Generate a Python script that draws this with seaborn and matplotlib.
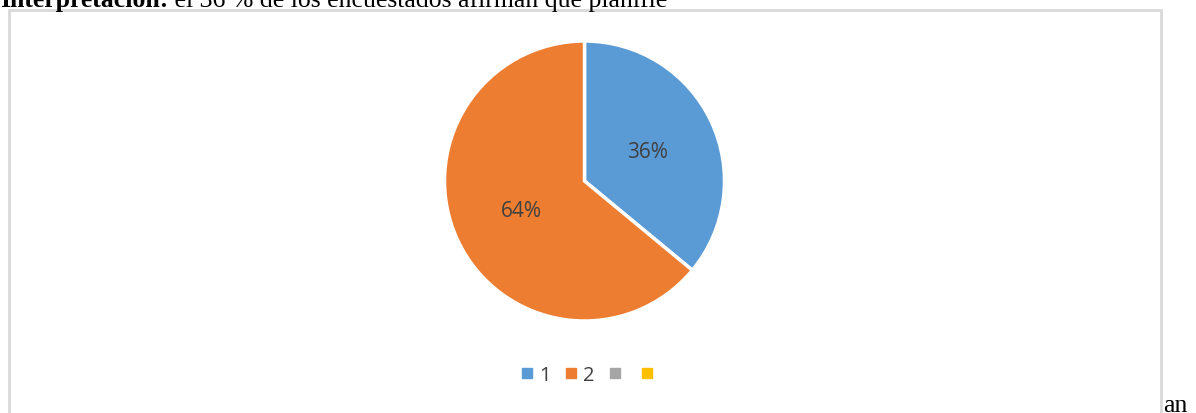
import matplotlib
matplotlib.use("Agg")
import matplotlib.pyplot as plt
import seaborn as sns
from matplotlib.lines import Line2D
from matplotlib.patches import Rectangle

# Survey answers: share of respondents per option
categories = ["1", "2", "", ""]
values = [36, 64, 0, 0]
colors = ["#5B9BD5", "#ED7D31", "#A5A5A5", "#FFC000"]

sns.set_theme(style="white")
plt.rcParams["font.family"] = ["Open Sans", "DejaVu Sans"]

W, H = 1196, 414
fig = plt.figure(figsize=(W / 100, H / 100), dpi=100)
fig.patch.set_facecolor("white")

# Surrounding chart frame (grey border, open at the bottom of the page)
fig.patches.append(Rectangle((9 / W, -0.05), (1161 - 9) / W, 1.05 - 11 / H,
                             transform=fig.transFigure, fill=False,
                             edgecolor="#D9D9D9", linewidth=2))

# Paragraph text around the chart
serif = dict(family="Liberation Serif", fontsize=18.5, color="black",
             va="baseline", ha="left")
bold = fig.text(0 / W, 1 - 7 / H, "Interpretación:", fontweight="bold", **serif)
fig.canvas.draw()
bb = bold.get_window_extent()
fig.text(bb.x1 / W, 1 - 7 / H, " el 36 % de los encuestados afirman que planifie", **serif)
fig.text(1163 / W, 2 / H, "an", **serif)

# Pie area
cx, cy, r = 584.5, 182, 140
ax = fig.add_axes([(cx - r) / W, (H - cy - r) / H, 2 * r / W, 2 * r / H])
shown = [(v, c) for v, c in zip(values, colors) if v > 0]
ax.pie([v for v, _ in shown], colors=[c for _, c in shown], startangle=90,
       counterclock=False, radius=1, autopct="%1.0f%%", pctdistance=0.5,
       wedgeprops=dict(edgecolor="white", linewidth=2.5),
       textprops=dict(color="#404040", fontsize=15))
ax.set_xlim(-1.0, 1.0)
ax.set_ylim(-1.0, 1.0)
ax.set_aspect("equal")
ax.axis("off")

handles = [Line2D([], [], marker="s", linestyle="none", markersize=7,
                  markerfacecolor=c, markeredgecolor=c) for c in colors]
fig.legend(handles, categories, loc="center", bbox_to_anchor=(590 / W, 1 - 376 / H),
           ncol=4, frameon=False, fontsize=14.5, labelcolor="#404040",
           handlelength=0.6, handletextpad=0.3, columnspacing=0.7)

fig.savefig("out.png", dpi=100, facecolor="white")
